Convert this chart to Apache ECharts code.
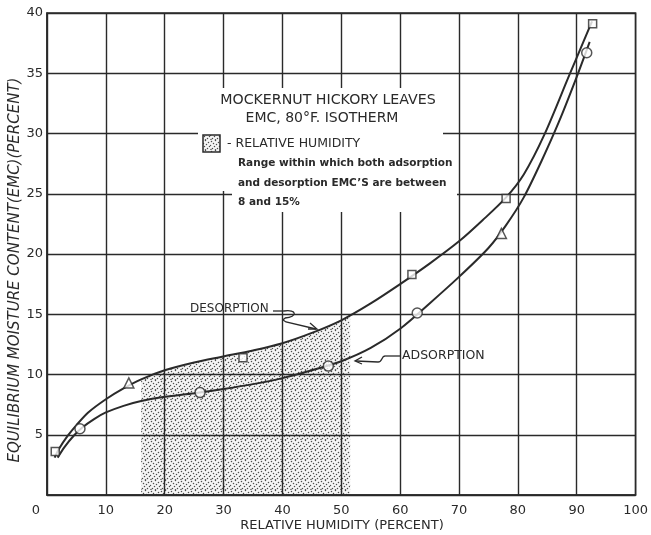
<!DOCTYPE html>
<html><head><meta charset="utf-8">
<script src="https://cdn.jsdelivr.net/npm/echarts@6/dist/echarts.min.js"></script>
<style>html,body{margin:0;padding:0;background:#fff}#c{width:651px;height:535px}</style>
</head><body><div id="c"></div>
<script>
// ---- data ----
const xTickLabels = ['0','10','20','30','40','50','60','70','80','90','100'];
const yTickLabels = ['','5','10','15','20','25','30','35','40'];

const desorptionCurve = [[1.3,3.1],[2,3.8],[3.5,4.9],[5,5.8],[7,6.85],[10,7.95],[13,8.85],[16,9.6],[20,10.35],[25,11.0],[30,11.5],[35,12.0],[40,12.6],[45,13.45],[50,14.5],[55,15.9],[60,17.5],[65,19.2],[70,21.05],[74,22.8],[78,24.7],[81,26.6],[84.5,29.9],[88.7,34.8],[90,36.3],[92.6,39.3]];
const adsorptionCurve = [[1.8,3.1],[3,4.0],[4.5,4.9],[6,5.6],[8,6.3],[10,6.85],[13,7.4],[16,7.8],[20,8.15],[25,8.45],[30,8.8],[35,9.2],[40,9.7],[45,10.35],[50,11.1],[55,12.2],[60,13.8],[65,15.9],[70,18.1],[75,20.5],[78,22.4],[81,24.7],[84,27.7],[87,31.0],[90,34.7],[92.2,37.6]];
const shadeTop = [[16,9.6],[20,10.35],[25,11.0],[30,11.5],[35,12.0],[40,12.6],[45,13.45],[50,14.5],[51.5,14.9]];

const desorptionSquares = [[1.4,3.6],[33.3,11.4],[62,18.3],[78,24.6],[92.7,39.1]];
const triangles = [[13.9,9.3],[77.2,21.7]];
const adsorptionCircles = [[5.6,5.5],[26,8.5],[47.8,10.7],[62.9,15.1],[91.7,36.7]];

const titleLines = ['MOCKERNUT HICKORY LEAVES', 'EMC, 80\u00B0F. ISOTHERM'];
const legendLines = ['- RELATIVE HUMIDITY', 'Range within which both adsorption', 'and desorption EMC\u2019S are between', '8 and 15%'];
const xName = 'RELATIVE HUMIDITY (PERCENT)';
const yName = 'EQUILIBRIUM MOISTURE CONTENT(EMC)(PERCENT)';

// ---- stipple pattern ----
const pc = document.createElement('canvas');
pc.width = 10; pc.height = 10;
const g = pc.getContext('2d');
g.fillStyle = '#f5f5f5'; g.fillRect(0,0,10,10);
g.fillStyle = '#4a4a4a';
[[1,1],[5,0],[8,2],[3,3],[6,4],[0,5],[9,6],[4,6],[2,8],[7,8],[5,9.2],[0.5,9]].forEach(p=>{g.beginPath();g.arc(p[0]+0.5,p[1]+0.5,0.72,0,Math.PI*2);g.fill();});

const ink = '#2a2a2a';
const F = 'DejaVu Sans';
const chart = echarts.init(document.getElementById('c'));

function markerSeries(name, data, symbol, size){
  return {name, type:'scatter', data, symbol, symbolSize:size, z:5,
    itemStyle:{color:'#fff', borderColor:ink, borderWidth:1.5}};
}
function curveSeries(name, data){
  return {name, type:'line', data, smooth:0.3, symbol:'none', z:4,
    lineStyle:{color:ink, width:2}};
}
const lineStyle = {fill:'none', stroke:ink, lineWidth:1.3};
function pl(points){ return {type:'polyline', z:6, shape:{points}, style:lineStyle}; }
function bz(x1,y1,cpx1,cpy1,cpx2,cpy2,x2,y2){ return {type:'bezierCurve', z:6, shape:{x1,y1,cpx1,cpy1,cpx2,cpy2,x2,y2}, style:lineStyle}; }
function txt(x, y, text, font, align){ return {type:'text', z:6, x, y, style:{text, font, fill:ink, align:align||'left', verticalAlign:'middle'}}; }

const option = {
  backgroundColor:'#fff',
  animation:false,
  grid:{left:47, right:11, top:13, bottom:40, show:true, borderColor:ink, borderWidth:1.5, backgroundColor:'transparent'},
  xAxis:{type:'value', min:0, max:100, interval:10,
    axisLine:{show:true, lineStyle:{color:ink, width:1.5}}, axisTick:{show:false},
    splitLine:{show:true, lineStyle:{color:ink, width:1.4}},
    axisLabel:{color:ink, fontFamily:F, fontSize:13, margin:9,
      formatter:(v)=>{const s = xTickLabels[Math.round(v/10)]; return v===0 ? '{z|'+s+'}' : s;},
      rich:{z:{fontFamily:F, fontSize:13, color:ink, padding:[0,22,0,0]}}}},
  yAxis:{type:'value', min:0, max:40, interval:5,
    axisLine:{show:true, lineStyle:{color:ink, width:1.5}}, axisTick:{show:false},
    splitLine:{show:true, lineStyle:{color:ink, width:1.4}},
    axisLabel:{color:ink, fontFamily:F, fontSize:13, margin:4,
      formatter:(v)=>yTickLabels[Math.round(v/5)]}},
  series:[
    {name:'shade', type:'line', data:shadeTop, smooth:0.3, symbol:'none', z:-1,
      lineStyle:{width:0}, areaStyle:{color:{image:pc, repeat:'repeat'}, opacity:1}},
    curveSeries('Desorption', desorptionCurve),
    curveSeries('Adsorption', adsorptionCurve),
    markerSeries('Desorption points', desorptionSquares, 'rect', 8),
    markerSeries('Triangle points', triangles, 'triangle', 10),
    markerSeries('Adsorption points', adsorptionCircles, 'circle', 10)
  ],
  graphic:[
    {type:'rect', z:1, shape:{x:198, y:88, width:245, height:103}, style:{fill:'#fff'}},
    {type:'rect', z:1, shape:{x:232, y:190, width:225, height:22}, style:{fill:'#fff'}},
    txt(328, 100, titleLines[0], '14.2px "DejaVu Sans"', 'center'),
    txt(322, 118, titleLines[1], '14px "DejaVu Sans"', 'center'),
    {type:'rect', z:6, shape:{x:203, y:135, width:17, height:17}, style:{fill:{image:pc, repeat:'repeat'}, stroke:ink, lineWidth:1.5}},
    txt(227, 144, legendLines[0], '12.5px "DejaVu Sans"'),
    txt(238, 163, legendLines[1], 'bold 10.5px "DejaVu Sans"'),
    txt(238, 183, legendLines[2], 'bold 10.5px "DejaVu Sans"'),
    txt(238, 202, legendLines[3], 'bold 10.5px "DejaVu Sans"'),
    txt(190, 309, 'DESORPTION', '12px "DejaVu Sans"'),
    pl([[273,311],[284,311]]),
    bz(284,311, 297,309, 298,317, 285,318),
    pl([[285,318],[283,320],[286,322],[316,329]]),
    pl([[310,323],[317,329],[308,329]]),
    txt(402, 356, 'ADSORPTION', '12.5px "DejaVu Sans"'),
    pl([[400,356],[385,356]]),
    bz(385,356, 381,356, 383,362, 378,362),
    pl([[378,362],[356,361]]),
    pl([[362,357],[355,361],[362,364]]),
    txt(342, 526, xName, '13px "DejaVu Sans"', 'center'),
    {type:'text', z:6, x:15, y:270, rotation:Math.PI/2, style:{text:yName, font:'italic 15px "DejaVu Sans"', fill:ink, align:'center', verticalAlign:'middle'}}
  ]
};
chart.setOption(option);
</script>
</body></html>
